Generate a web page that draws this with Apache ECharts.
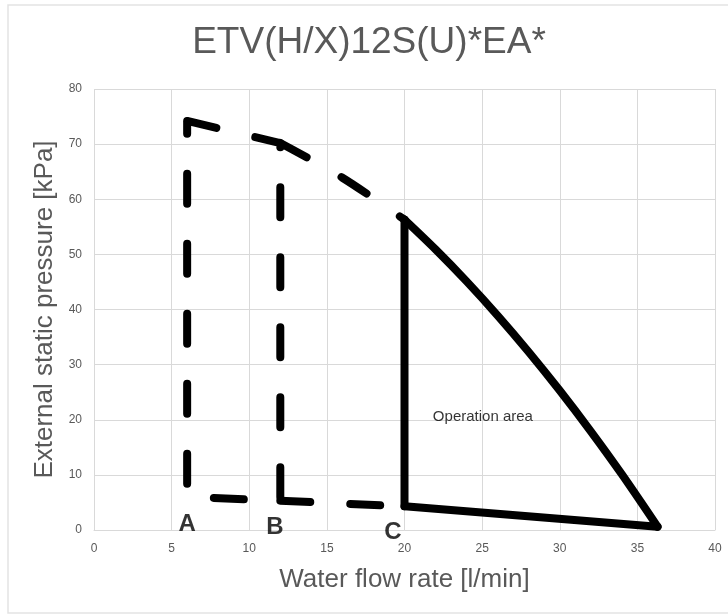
<!DOCTYPE html>
<html>
<head>
<meta charset="utf-8">
<script src="https://cdn.jsdelivr.net/npm/echarts@6/dist/echarts.min.js"></script>
<style>html,body{margin:0;padding:0;background:#fff}#c{width:728px;height:615px}</style>
</head>
<body>
<div id="c"></div>
<script>
// ---- data ----
var titleText = 'ETV(H/X)12S(U)*EA*';
var xName = 'Water flow rate [l/min]';
var yName = 'External static pressure [kPa]';
var xTicks = [0, 5, 10, 15, 20, 25, 30, 35, 40];
var yTicks = [0, 10, 20, 30, 40, 50, 60, 70, 80];
// dashed loop between A (6 l/min) and B (12 l/min)
var loopAB = [[6, 74.2], [12, 70.2], [12, 5.3], [6, 6.0], [6, 74.2]];
// dashed limit lines between B and C
var topBC = [[12, 70.2], [16, 63.9], [20, 56.3]];
var bottomBC = [[12, 5.3], [20, 4.3]];
// solid operation area
var opLeft = [[20, 4.3], [20, 56.3]];
var opCurveX = [20, 22, 24, 26, 28, 30, 32, 34, 36.3];
var opCurveY = [56.3, 50.9, 45.1, 38.9, 32.3, 25.3, 17.9, 10.1, 0.6];
var opBottom = [[20, 4.3], [36.3, 0.6]];
// point labels
var pointNames = ['A', 'B', 'C'];
var pointX = [6.0, 11.65, 19.25];
var pointY = [1.1, 0.5, -0.5];
var areaText = 'Operation area';
var areaPos = [25.05, 20.5];

var chart = echarts.init(document.getElementById('c'));
var gray = '#595959';
var lineStyleDash = {color: '#000', width: 8, type: [30, 40], cap: 'round', join: 'round'};
var lineStyleSolid = {color: '#000', width: 8, type: 'solid', cap: 'round', join: 'round'};
function lineSeries(data, style, smooth) {
  return {type: 'line', data: data, showSymbol: false, symbol: 'none', smooth: smooth || false,
    lineStyle: style, silent: true, animation: false, z: 3};
}
var opCurve = opCurveX.map(function (x, i) { return [x, opCurveY[i]]; });
var option = {
  animation: false,
  grid: {left: 94, right: 13, top: 89, bottom: 85, containLabel: false},
  graphic: [
    {type: 'rect', shape: {x: 8, y: 5, width: 800, height: 608}, style: {fill: 'none', stroke: '#e3e3e3', lineWidth: 1.5}, z: 0},
    {type: 'text', x: 369, y: 43, style: {text: titleText, font: '37px "Liberation Sans"', fill: gray, textAlign: 'center', textVerticalAlign: 'middle'}}
  ],
  xAxis: {
    type: 'value', min: 0, max: 40, interval: 5,
    name: xName, nameLocation: 'middle', nameGap: 37,
    nameTextStyle: {fontFamily: 'Liberation Sans', fontSize: 26, color: gray},
    axisLine: {show: true, lineStyle: {color: '#d9d9d9', width: 1}},
    axisTick: {show: false},
    axisLabel: {fontFamily: 'Liberation Sans', fontSize: 12, color: gray, margin: 13,
      formatter: function (v) { return xTicks.indexOf(v) >= 0 ? String(v) : ''; }},
    splitLine: {show: true, lineStyle: {color: '#d9d9d9', width: 1}}
  },
  yAxis: {
    type: 'value', min: 0, max: 80, interval: 10,
    name: yName, nameLocation: 'middle', nameGap: 33, nameRotate: 90,
    nameTextStyle: {fontFamily: 'Liberation Sans', fontSize: 26, color: gray},
    axisLine: {show: false},
    axisTick: {show: false},
    axisLabel: {fontFamily: 'Liberation Sans', fontSize: 12, color: gray, margin: 12,
      formatter: function (v) { return yTicks.indexOf(v) >= 0 ? String(v) : ''; }},
    splitLine: {show: true, lineStyle: {color: '#d9d9d9', width: 1}}
  },
  series: [
    lineSeries(loopAB, lineStyleDash),
    lineSeries(topBC, lineStyleDash, 0.3),
    lineSeries(bottomBC, lineStyleDash),
    lineSeries(opLeft, lineStyleSolid),
    lineSeries(opCurve, lineStyleSolid, 0.3),
    lineSeries(opBottom, lineStyleSolid),
    {
      type: 'scatter', symbolSize: 0, clip: false, silent: true, z: 5,
      data: pointNames.map(function (n, i) { return {name: n, value: [pointX[i], pointY[i]]}; }),
      label: {show: true, position: 'inside', formatter: '{b}', fontFamily: 'Liberation Sans', fontWeight: 'bold', fontSize: 24, color: '#000'}
    },
    {
      type: 'scatter', symbolSize: 0, clip: false, silent: true, z: 5,
      data: [{name: areaText, value: areaPos}],
      label: {show: true, position: 'inside', formatter: '{b}', fontFamily: 'Liberation Sans', fontSize: 15, color: '#000'}
    }
  ]
};
chart.setOption(option);
</script>
</body>
</html>
